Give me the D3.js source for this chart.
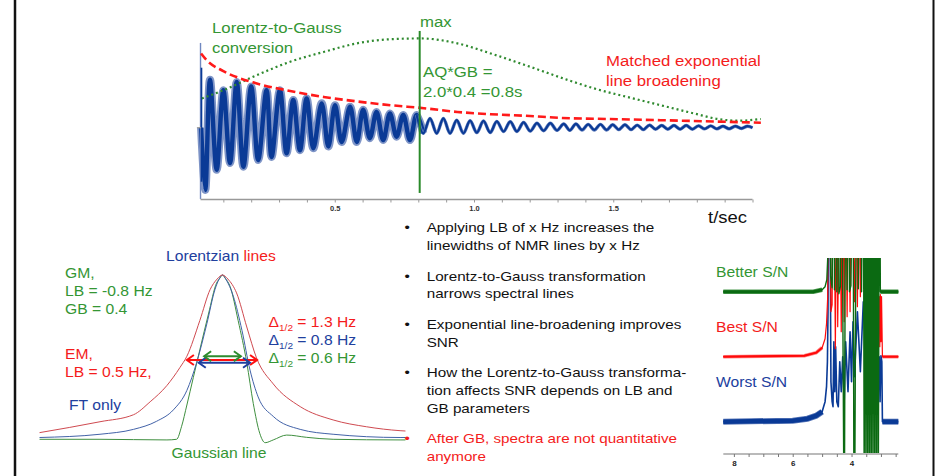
<!DOCTYPE html>
<html>
<head>
<meta charset="utf-8">
<script src="https://cdn.jsdelivr.net/npm/d3@7"></script>
<style>
  body { margin: 0; background: #fff; }
  svg { display: block; font-family: "Liberation Sans", Arial, sans-serif; }
</style>
</head>
<body>
<div id="chart"></div>
<script>
// ---- top panel: FID and window functions (t in s) ----
var fidT = [0.020, 0.035, 0.052, 0.076, 0.100, 0.124, 0.148, 0.172, 0.200, 0.225,
    0.255, 0.273, 0.303, 0.327, 0.351, 0.375, 0.399, 0.423, 0.453, 0.477,
    0.501, 0.525, 0.555, 0.579, 0.602, 0.626, 0.650, 0.674, 0.698, 0.722,
    0.746, 0.770, 0.794, 0.818, 0.842, 0.866, 0.890, 0.914, 0.938, 0.962,
    0.986, 1.010, 1.034, 1.058, 1.082, 1.106, 1.130, 1.154, 1.178, 1.202,
    1.226, 1.250, 1.274, 1.298, 1.322, 1.344, 1.366, 1.388, 1.410, 1.432,
    1.454, 1.476, 1.498, 1.520, 1.542, 1.564, 1.586, 1.608, 1.630, 1.652,
    1.674, 1.696, 1.718, 1.740, 1.762, 1.784, 1.806, 1.828, 1.850, 1.872,
    1.894, 1.916, 1.938, 1.960, 1.982, 2.000];
var fidV = [0.00, -0.83, 0.64, -0.56, 0.50, -0.47, 0.61, -0.52, 0.55, -0.43,
    0.50, -0.39, 0.50, -0.34, 0.37, -0.30, 0.39, -0.275, 0.325, -0.25,
    0.30, -0.19, 0.28, -0.19, 0.24, -0.14, 0.21, -0.165, 0.19, -0.12,
    0.17, -0.165, 0.17, -0.075, 0.125, -0.075, 0.125, -0.075, 0.10, -0.075,
    0.095, -0.065, 0.09, -0.065, 0.085, -0.05, 0.08, -0.05, 0.07, -0.045,
    0.06, -0.04, 0.06, -0.035, 0.05, -0.035, 0.05, -0.03, 0.045, -0.03,
    0.045, -0.03, 0.04, -0.025, 0.04, -0.025, 0.035, -0.025, 0.035, -0.02,
    0.03, -0.02, 0.03, -0.02, 0.03, -0.02, 0.025, -0.015, 0.025, -0.015,
    0.02, -0.015, 0.02, -0.01, 0.02, 0.00];
var noisyUntil = 0.82;
var spikeT = 0.018, spikeOuter = [1.13, -0.95], spikeInner = [0.80, -0.72];

var expT = [0.02, 0.04, 0.10, 0.22, 0.34, 0.46, 0.58, 0.70, 0.82, 0.94, 1.06, 1.18, 1.35, 1.43, 1.67, 2.03];
var expV = [0.99, 0.90, 0.755, 0.59, 0.49, 0.41, 0.35, 0.30, 0.26, 0.21, 0.18, 0.16, 0.125, 0.12, 0.10, 0.067];

var gaussT = [0.023, 0.10, 0.22, 0.34, 0.46, 0.58, 0.70, 0.81, 0.94, 1.06, 1.18, 1.35, 1.43, 1.55, 1.67, 1.79, 1.875, 1.95, 2.03];
var gaussV = [0.39, 0.50, 0.70, 0.88, 1.01, 1.125, 1.18, 1.19, 1.125, 0.99, 0.84, 0.62, 0.525, 0.41, 0.30, 0.19, 0.116, 0.093, 0.116];

var maxT = 0.805, maxLine = [1.29, -0.87];
var timeTicks = [0.1, 0.2, 0.3, 0.4, 0.5, 0.6, 0.7, 0.8, 0.9, 1.0, 1.1, 1.2, 1.3, 1.4, 1.5, 1.6, 1.7, 1.8, 1.9, 2.0];
var timeLabels = [0.5, 1.0, 1.5];

// ---- bottom left: line shapes (offset in Hz, normalised height) ----
var lorHz = [-3.39, -2.27, -1.65, -1.34, -1.03, -0.79, -0.66, -0.42, -0.23, -0.1, 0, 0.1, 0.26, 0.45, 0.63, 0.94, 1.44, 2.05, 2.67, 3.29, 3.39];
var lorV  = [0.03, 0.097, 0.14, 0.22, 0.32, 0.43, 0.50, 0.72, 0.91, 0.975, 1.0, 0.975, 0.89, 0.68, 0.49, 0.33, 0.19, 0.108, 0.066, 0.042, 0.04];
var ftHz  = [-3.39, -2.27, -1.65, -1.22, -0.91, -0.66, -0.48, -0.29, -0.14, -0.07, 0, 0.07, 0.20, 0.36, 0.51, 0.66, 0.94, 1.44, 2.05, 3.29, 3.39];
var ftV   = [0.0, 0.02, 0.05, 0.10, 0.17, 0.29, 0.46, 0.70, 0.91, 0.97, 1.0, 0.97, 0.87, 0.66, 0.415, 0.25, 0.13, 0.05, 0.02, 0.0, 0.0];
var gmHz  = [-3.39, -2.27, -1.03, -0.85, -0.76, -0.66, -0.54, -0.42, -0.26, -0.11, -0.05, 0, 0.05, 0.14, 0.29, 0.45, 0.57, 0.69, 0.79, 0.94, 1.19, 1.56, 2.05, 3.29, 3.39];
var gmV   = [-0.011, -0.011, -0.015, -0.011, 0.066, 0.20, 0.37, 0.54, 0.76, 0.95, 0.98, 1.0, 0.98, 0.93, 0.72, 0.46, 0.21, 0.026, -0.032, -0.015, 0.015, 0.001, -0.011, -0.015, -0.015];
var halfWidths = [
  { name: "EM", from: -0.66, to: 0.64, at: 0.477 },
  { name: "FT", from: -0.44, to: 0.51, at: 0.46 },
  { name: "GM", from: -0.34, to: 0.34, at: 0.50 }
];

// ---- bottom right: 1H spectra (ppm, height above own baseline) ----
var betterPpm = [8.36, 5.3, 5.0, 4.9, 4.84, 4.80, 4.78, 4.74, 4.71, 4.66, 4.60, 4.58, 4.52, 4.50, 4.45, 4.43, 4.38, 4.33, 4.30, 4.26, 4.24, 4.22, 4.18, 4.15, 4.10, 4.07, 4.02, 3.95, 3.92, 3.89, 3.86, 3.80, 3.77, 3.70, 3.66, 3.60, 3.57, 3.54, 3.51, 3.48, 3.45, 3.42, 3.39, 3.36, 3.33, 3.30, 3.27, 3.24, 3.21, 3.18, 3.15, 3.12, 3.09, 3.05, 3.02, 2.98, 2.41];
var betterV   = [0, 0, 2, 5, 12, 40, 200, 200, 15, 4, 200, 2, 200, 0, 200, -2, 5, 200, 0, -200, -200, 0, 200, 2, 200, 0, 6, 200, -200, -200, 0, 200, 3, 200, 0, 200, -200, 200, -200, 200, -200, 200, -200, 200, -200, 200, -200, 200, -200, 200, -200, 200, -200, 200, 0, 0, 0];
var bestPpm = [8.36, 5.6, 5.2, 5.0, 4.9, 4.85, 4.81, 4.79, 4.74, 4.70, 4.66, 4.63, 4.60, 4.55, 4.50, 4.47, 4.40, 4.35, 4.30, 4.25, 4.20, 4.15, 4.10, 4.05, 4.0, 3.9, 3.85, 3.8, 3.75, 3.7, 3.6, 3.5, 3.4, 3.3, 3.2, 3.1, 3.06, 3.04, 3.02, 3.0, 2.98, 2.95, 2.41];
var bestV   = [0, 1, 4, 9, 18, 33, 60, 200, 200, 45, 52, 200, 200, 8, 200, 30, 200, 25, 200, 35, 200, 40, 200, 45, 200, 55, 200, 50, 200, 60, 200, 55, 200, 60, 200, 60, 60, 10, 62, 15, 60, 0, 0];
var worstPpm = [8.36, 6.0, 5.5, 5.2, 5.0, 4.9, 4.85, 4.82, 4.80, 4.78, 4.74, 4.70, 4.66, 4.63, 4.60, 4.57, 4.54, 4.50, 4.45, 4.40, 4.35, 4.30, 4.25, 4.20, 4.12, 4.05, 4.0, 3.95, 3.9, 3.8, 3.7, 3.6, 3.5, 3.4, 3.3, 3.2, 3.1, 3.06, 3.03, 3.0, 2.97, 2.95, 2.41];
var worstV   = [0, 1, 3, 6, 10, 20, 35, 60, 110, 250, 250, 40, 20, 15, 80, 30, 75, 20, 15, 60, 30, 65, 20, 80, 30, 90, 40, 100, 45, 110, 50, 120, 60, 120, 60, 110, 65, 65, 20, 66, 60, 0, 0];
var ppmTicks = [8.0, 7.5, 7.0, 6.5, 6.0, 5.5, 5.0, 4.5, 4.0, 3.5, 3.0, 2.5];
var ppmLabels = [8, 6, 4];

var bullets = [
  { lines: ["Applying LB of x Hz increases the", "linewidths of NMR lines by x Hz"], red: false },
  { lines: ["Lorentz-to-Gauss transformation", "narrows spectral lines"], red: false },
  { lines: ["Exponential line-broadening improves", "SNR"], red: false },
  { lines: ["How the Lorentz-to-Gauss transforma-", "tion affects SNR depends on LB and", "GB parameters"], red: false },
  { lines: ["After GB, spectra are not quantitative", "anymore"], red: true }
];

var GREEN = "#349634", RED = "#f41c1c", BLUE = "#21409e";
var FIDBLUE = "#0a3a96";
var WIDE = 1.12; // the slide text is a little wider than Liberation Sans

var svg = d3.select("#chart").append("svg").attr("width", 935).attr("height", 476);
svg.append("rect").attr("width", 935).attr("height", 476).attr("fill", "#fff");

// slide frame edges
svg.append("line").attr("x1", 15).attr("x2", 15).attr("y1", 0).attr("y2", 476)
  .attr("stroke", "#111").attr("stroke-width", 2.5);
svg.append("line").attr("x1", 933.5).attr("x2", 933.5).attr("y1", 0).attr("y2", 476)
  .attr("stroke", "#111").attr("stroke-width", 2);

function textAt(g, x, y, size, color) {
  return g.append("g").attr("transform", "translate(" + x + "," + y + ") scale(" + WIDE + ",1)")
    .append("text").attr("font-size", size).attr("fill", color);
}
function label(g, x, y, lines, color, size, lh) {
  var t = textAt(g, x, y, size, color);
  lines.forEach(function(s, i) {
    t.append("tspan").attr("x", 0).attr("dy", i === 0 ? 0 : lh).text(s);
  });
  return t;
}

// ================= top panel =================
var xT = d3.scaleLinear().domain([0, 2]).range([195.5, 752.5]);
var yT = d3.scaleLinear().domain([-1, 1]).range([202.7, 52.7]);
var topG = svg.append("g");

var fid = fidT.map(function(t, i) { return { t: t, v: fidV[i] }; });
var fidLine = d3.line().x(function(d) { return xT(d.t); }).y(function(d) { return yT(d.v); })
  .curve(d3.curveCatmullRom.alpha(0.5));

var noisy = fid.filter(function(d) { return d.t <= noisyUntil; });
var clean = fid.filter(function(d) { return d.t >= noisyUntil - 0.03; });

topG.append("path").datum(noisy).attr("d", fidLine).attr("fill", "none")
  .attr("stroke", "#7f95c7").attr("stroke-width", 8).attr("stroke-linejoin", "round");
topG.append("path").datum(noisy).attr("d", fidLine).attr("fill", "none")
  .attr("stroke", FIDBLUE).attr("stroke-width", 4.4).attr("stroke-linejoin", "round");
topG.append("path").datum(clean).attr("d", fidLine).attr("fill", "none")
  .attr("stroke", "#6580bd").attr("stroke-width", 3.4);
topG.append("path").datum(clean).attr("d", fidLine).attr("fill", "none")
  .attr("stroke", FIDBLUE).attr("stroke-width", 2.2);

// first-point spike
topG.append("line").attr("x1", xT(spikeT)).attr("x2", xT(spikeT))
  .attr("y1", yT(spikeOuter[0])).attr("y2", yT(spikeOuter[1]))
  .attr("stroke", "#7088c0").attr("stroke-width", 1.4);
topG.append("line").attr("x1", xT(spikeT) + 1).attr("x2", xT(spikeT) + 1)
  .attr("y1", yT(spikeInner[0])).attr("y2", yT(spikeInner[1]))
  .attr("stroke", FIDBLUE).attr("stroke-width", 1.6);

// window functions
var smooth = function(ts, vs) {
  return d3.line().x(function(d) { return xT(d[0]); }).y(function(d) { return yT(d[1]); })
    .curve(d3.curveMonotoneX)(ts.map(function(t, i) { return [t, vs[i]]; }));
};
topG.append("path").attr("d", smooth(gaussT, gaussV)).attr("fill", "none")
  .attr("stroke", "#2f8a2f").attr("stroke-width", 2.2).attr("stroke-dasharray", "2,3");
topG.append("path").attr("d", smooth(expT, expV)).attr("fill", "none")
  .attr("stroke", "#ff1a1a").attr("stroke-width", 2.6).attr("stroke-dasharray", "8,4");

// max line
topG.append("line").attr("x1", xT(maxT)).attr("x2", xT(maxT))
  .attr("y1", yT(maxLine[0])).attr("y2", yT(maxLine[1]))
  .attr("stroke", "#2a8a2a").attr("stroke-width", 2);

// time axis
var axT = d3.axisBottom(xT).tickValues(timeTicks).tickSize(3).tickPadding(3)
  .tickFormat(function(d) { return timeLabels.indexOf(d) >= 0 ? d3.format(".1f")(d) : ""; });
var axG = topG.append("g").attr("transform", "translate(0,199.5)").call(axT);
axG.select(".domain").remove();
axG.selectAll(".tick line").attr("stroke", "#999");
axG.selectAll(".tick text").attr("font-size", 7.5).attr("font-weight", "bold")
  .attr("fill", "#333").attr("font-family", "Liberation Sans, Arial, sans-serif");
topG.append("line").attr("x1", xT(0.018)).attr("x2", xT(2)).attr("y1", 199.5).attr("y2", 199.5)
  .attr("stroke", "#999").attr("stroke-width", 1.3);
topG.append("line").attr("x1", xT(0.005)).attr("x2", xT(0.02)).attr("y1", yT(0)).attr("y2", yT(0))
  .attr("stroke", "#999").attr("stroke-width", 1.2);

label(topG, 212, 33, ["Lorentz-to-Gauss", "conversion"], GREEN, 15, 20);
label(topG, 420, 27, ["max"], GREEN, 15, 20);
label(topG, 423, 77, ["AQ*GB =", "2.0*0.4 =0.8s"], GREEN, 15, 20);
label(topG, 606, 66, ["Matched exponential", "line broadening"], RED, 15, 20);
label(topG, 708, 223, ["t/sec"], "#111", 16.5, 20);

// ================= bottom left: line shapes =================
var xL = d3.scaleLinear().domain([-3.4, 3.4]).range([39, 406]);
var yL = d3.scaleLinear().domain([0, 1]).range([437.5, 275]);
var shapeLine = d3.line().x(function(d) { return xL(d[0]); }).y(function(d) { return yL(d[1]); })
  .curve(d3.curveMonotoneX);
var leftG = svg.append("g");
[[gmHz, gmV, "#3f8f3f"], [ftHz, ftV, "#4262a8"], [lorHz, lorV, "#cf4a50"]].forEach(function(s) {
  leftG.append("path").attr("d", shapeLine(s[0].map(function(h, i) { return [h, s[1][i]]; })))
    .attr("fill", "none").attr("stroke", s[2]).attr("stroke-width", 1);
});

var arrowColor = { EM: "#ff1010", FT: "#1f3f9f", GM: "#2e8b2e" };
halfWidths.forEach(function(a) {
  var x1 = xL(a.from), x2 = xL(a.to), y = yL(a.at), c = arrowColor[a.name];
  leftG.append("line").attr("x1", x1).attr("x2", x2).attr("y1", y).attr("y2", y)
    .attr("stroke", c).attr("stroke-width", 2);
  leftG.append("path").attr("d", "M" + (x1 + 7) + "," + (y - 5) + "L" + x1 + "," + y + "L" + (x1 + 7) + "," + (y + 5))
    .attr("fill", "none").attr("stroke", c).attr("stroke-width", 2);
  leftG.append("path").attr("d", "M" + (x2 - 7) + "," + (y - 5) + "L" + x2 + "," + y + "L" + (x2 - 7) + "," + (y + 5))
    .attr("fill", "none").attr("stroke", c).attr("stroke-width", 2);
});

var lt = textAt(leftG, 166, 260.5, 14, BLUE);
lt.append("tspan").attr("fill", BLUE).text("Lorentzian ");
lt.append("tspan").attr("fill", RED).text("lines");
label(leftG, 65, 278.3, ["GM,", "LB = -0.8 Hz", "GB = 0.4"], GREEN, 14, 17.8);
label(leftG, 65, 359, ["EM,", "LB = 0.5 Hz,"], RED, 14, 17.7);
label(leftG, 69, 410, ["FT only"], BLUE, 14, 17);
label(leftG, 171.5, 458.3, ["Gaussian line"], GREEN, 14, 17);

var deltas = [["1.3 Hz", RED, 327.3], ["0.8 Hz", BLUE, 345], ["0.6 Hz", GREEN, 363.3]];
deltas.forEach(function(d) {
  var t = textAt(leftG, 268.5, d[2], 14, d[1]);
  t.append("tspan").text("\u0394");
  t.append("tspan").attr("font-size", 9).attr("dy", 4).text("1/2");
  t.append("tspan").attr("dy", -4).text(" = " + d[0]);
});

// ================= bullets =================
var bg = svg.append("g");
var by = 232.3;
bullets.forEach(function(b) {
  var col = b.red ? RED : "#111";
  textAt(bg, 404.5, by, 13.6, col).text("\u2022");
  b.lines.forEach(function(s, i) {
    textAt(bg, 426.7, by + i * 17.8, 13.6, col).text(s);
  });
  by += b.lines.length * 17.8 + 12.6;
});

// ================= bottom right: spectra =================
var xS = d3.scaleLinear().domain([8.36, 2.41]).range([723.3, 898.3]);
var rightG = svg.append("g");
rightG.append("clipPath").attr("id", "specClip").append("rect")
  .attr("x", 723).attr("y", 258).attr("width", 176).attr("height", 195);
var specG = rightG.append("g").attr("clip-path", "url(#specClip)");

function spectrum(ppm, vals, base, core, halo, w, noiseW, flatEnd, flatStart) {
  var line = d3.line().x(function(d) { return xS(d[0]); }).y(function(d) { return base - d[1]; });
  var pts = ppm.map(function(p, i) { return [p, vals[i]]; });
  // baseline noise band, only on the flat stretches either side of the peaks
  var left = pts.filter(function(d) { return d[0] >= flatEnd; });
  var right = pts.filter(function(d) { return d[0] <= flatStart; });
  [left, right].forEach(function(seg) {
    specG.append("path").attr("d", line(seg)).attr("fill", "none")
      .attr("stroke", halo).attr("stroke-width", noiseW);
    specG.append("path").attr("d", line(seg)).attr("fill", "none")
      .attr("stroke", core).attr("stroke-width", noiseW - 1.5);
  });
  specG.append("path").attr("d", line(pts)).attr("fill", "none")
    .attr("stroke", core).attr("stroke-width", w).attr("stroke-linejoin", "round");
}
spectrum(worstPpm, worstV, 421.7, "#0a3a96", "#5a78b8", 1.6, 6, 5.0, 2.95);
spectrum(bestPpm, bestV, 356.7, "#ff0a0a", "#ff8080", 1.2, 3.5, 5.0, 2.95);
spectrum(betterPpm, betterV, 291.7, "#0b6a12", "#4d9a50", 1.4, 4.5, 5.0, 3.02);

var axS = d3.axisBottom(xS).tickValues(ppmTicks).tickSize(3).tickPadding(3)
  .tickFormat(function(d) { return ppmLabels.indexOf(d) >= 0 ? d3.format("d")(d) : ""; });
var axSG = rightG.append("g").attr("transform", "translate(0,454)").call(axS);
axSG.select(".domain").remove();
axSG.selectAll(".tick line").attr("stroke", "#777");
axSG.selectAll(".tick text").attr("font-size", 8).attr("font-weight", "bold")
  .attr("fill", "#222").attr("font-family", "Liberation Sans, Arial, sans-serif");
rightG.append("line").attr("x1", 723.3).attr("x2", 898.3).attr("y1", 454).attr("y2", 454)
  .attr("stroke", "#777").attr("stroke-width", 1.2);

label(rightG, 716, 276.7, ["Better S/N"], GREEN, 14, 17);
label(rightG, 716, 331.7, ["Best S/N"], RED, 14, 17);
label(rightG, 716, 387.3, ["Worst S/N"], BLUE, 14, 17);
</script>
</body>
</html>
